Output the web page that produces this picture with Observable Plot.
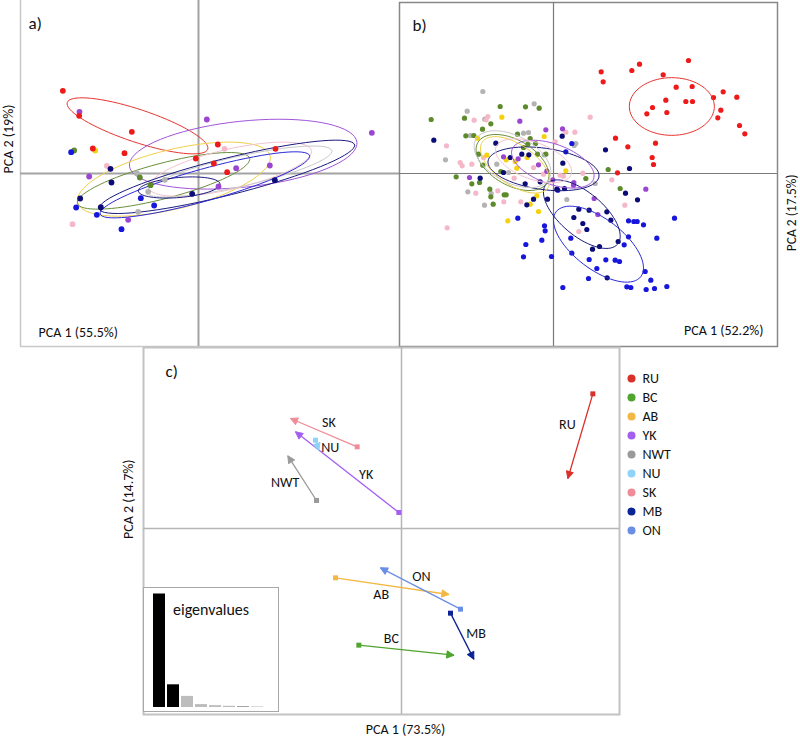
<!DOCTYPE html>
<html><head><meta charset="utf-8">
<script src="https://cdn.jsdelivr.net/npm/d3@7"></script>
<script src="https://cdn.jsdelivr.net/npm/@observablehq/plot@0.6"></script>
<style>
body{margin:0;background:#fff;}
#root{position:relative;width:800px;height:737px;overflow:hidden;font-family:Carlito,Calibri,Lato,sans-serif;}
#root svg{position:absolute;}
</style></head><body><div id="root"></div>
<script>
// ---------- categories ----------
const groups = ["RU","BC","AB","YK","NWT","NU","SK","MB","ON"];

// ---------- panel a : PCA scores ----------
const aRU = [[-4.07,2.48],[-3.58,1.73],[-3.17,0.75],[-2.00,1.25],[-2.22,0.61],[-0.08,0.45],[0.58,0.87],[0.46,0.30],[0.86,0.04],[2.31,0.74]];
const aYK = [[-3.57,1.85],[0.25,1.62],[5.20,1.22],[-3.28,-0.09],[1.13,0.16],[2.14,0.24],[0.60,-0.39],[-2.11,-1.39]];
const aON = [[-3.82,0.64],[-3.67,-1.02],[-3.05,-1.24],[-2.31,-1.67],[-1.73,-0.74],[-1.33,-0.96]];
const aMB = [[-2.64,0.14],[-2.61,-0.27],[-3.55,-0.75],[-2.93,-1.01],[-0.19,-0.61],[2.29,-0.20]];
const aBC = [[-3.73,0.69],[-1.76,-0.12],[-1.44,-0.35]];
const aAB = [[-3.10,0.69]];
const aSK = [[-2.75,0.23],[0.78,0.74],[-3.78,-1.52]];
const aNWT = [[-1.85,0.01],[-1.01,-0.19],[-1.51,-0.55],[-1.81,-1.15]];
const aEll = [
  {g:"RU", cx:-1.83, cy:1.43, a:2.22, b:0.49, angle:-18.4},
  {g:"YK", cx:1.34, cy:0.58, a:3.43, b:0.99, angle:6},
  {g:"AB", cx:-0.74, cy:-0.17, a:2.97, b:0.89, angle:13.6},
  {g:"BC", cx:-1.05, cy:-0.22, a:2.67, b:0.53, angle:14.7},
  {g:"SK", cx:0.95, cy:0.13, a:2.5, b:0.6, angle:13},
  {g:"NWT", cx:1.22, cy:0.06, a:2.85, b:0.45, angle:12.7},
  {g:"MB", cx:0.85, cy:-0.10, a:3.95, b:0.55, angle:14.1},
  {g:"ON", cx:0.19, cy:-0.34, a:3.26, b:0.48, angle:15.6},
  {g:"MB", cx:-0.58, cy:-0.42, a:1.23, b:0.3, angle:5}
];

// ---------- panel b : PCA scores ----------
const bRU = [[1.43,3.05],[1.49,2.75],[2.35,3.09],[2.58,3.28],[4.05,3.39],[3.29,2.96],[3.68,2.59],[4.16,2.61],[2.97,1.98],[2.80,1.79],[3.37,2.20],[3.40,1.83],[3.97,2.16],[4.17,2.16],[5.09,2.45],[5.50,2.29],[4.80,2.28],[5.02,1.90],[4.93,1.67],[5.58,1.44],[5.74,1.19],[1.86,1.06],[2.23,0.80],[3.06,0.91],[2.96,0.48],[3.00,0.27],[1.92,0.02]];
const bON = [[0.55,0.90],[0.37,0.65],[-1.07,-1.34],[-0.83,-2.13],[-0.90,-2.50],[-0.06,-2.49],[0.28,-3.42],[-0.27,-1.57],[-0.25,-1.72],[-0.35,-2.00],[0.52,-1.94],[0.55,-2.39],[1.07,-2.58],[1.30,-2.85],[1.05,-3.15],[1.57,-2.59],[1.85,-2.60],[1.98,-2.64],[2.25,-1.42],[2.25,-1.90],[2.12,-2.14],[2.41,-1.44],[2.51,-1.44],[2.70,-1.54],[3.10,-1.94],[3.63,-1.34],[2.75,-2.94],[2.92,-3.20],[2.20,-3.40],[2.32,-3.42],[2.78,-3.48],[3.03,-3.45],[3.40,-3.39],[0.13,-0.50]];
const bMB = [[-3.59,1.00],[-2.20,-0.14],[-1.73,0.91],[-0.95,0.58],[-0.74,0.56],[0.26,1.12],[0.28,0.31],[-0.80,-0.94],[-0.60,-0.77],[-0.18,-0.77],[-0.40,-0.25],[0.76,-1.07],[0.61,-1.32],[1.07,-1.10],[0.88,-1.50],[1.00,-1.68],[1.60,-1.15],[1.72,-1.40],[1.94,-2.04],[1.38,-2.19],[1.17,-2.27],[1.56,0.71],[2.28,0.15],[2.16,-0.59],[2.52,-0.79],[1.61,-3.13],[0.10,-0.47],[0.33,-0.45],[-0.85,-0.31],[-1.50,0.03],[-1.30,0.48]];
const bBC = [[-3.67,1.62],[-2.67,1.66],[-1.60,2.01],[-0.84,2.00],[-0.43,1.96],[-1.88,1.49],[-2.13,1.33],[-2.63,1.13],[-2.39,1.14],[-1.08,1.18],[-0.70,1.05],[-0.77,0.88],[-2.92,-0.10],[-2.45,-0.31],[-2.22,-0.27],[-1.91,-0.47],[-1.88,-0.70],[-1.81,-0.92],[-1.48,-0.64],[-1.42,-0.64],[-0.54,0.90],[-0.48,0.58],[-0.23,0.58],[0.97,-0.15],[1.64,0.12],[2.00,-0.45],[-1.58,0.06],[-2.12,0.25],[-2.25,0.58],[-0.90,0.78]];
const bNWT = [[-2.12,2.46],[-2.59,1.87],[-2.06,1.63],[-0.58,2.09],[-3.24,0.41],[-2.57,-0.55],[-2.07,-0.95],[-1.87,-0.60],[-1.70,0.28],[-2.49,1.14],[-0.90,1.21],[-0.75,1.23],[0.40,-0.78],[1.25,-0.30],[0.67,0.90],[0.62,0.84],[-0.28,0.56],[-1.35,0.03]];
const bSK = [[-3.21,0.83],[-2.80,0.33],[-2.74,0.23],[-2.38,1.60],[-1.97,1.71],[-2.02,1.61],[-2.45,0.28],[-2.33,-0.59],[-1.67,-0.52],[-1.49,-0.85],[-0.98,-0.85],[-1.18,-0.14],[-3.19,-1.63],[1.10,1.69],[0.64,1.24],[0.05,0.95],[0.88,0.01],[1.75,-0.19],[2.14,-0.95],[0.76,-1.74],[0.37,1.24],[0.30,-0.08],[0.20,-0.05],[-0.30,-0.02],[-2.10,0.48],[-0.60,0.18]];
const bAB = [[-1.55,1.69],[-2.28,1.06],[-0.28,1.11],[-1.37,-1.42],[-0.45,-1.14],[-0.50,-0.67],[0.37,0.08],[-1.15,0.36],[-0.79,0.48],[-1.10,0.16],[-1.42,0.41],[-2.00,0.55],[-0.70,-0.92]];
const bYK = [[-1.01,1.57],[-0.23,1.31],[0.27,1.34],[-2.52,-0.12],[-1.50,0.50],[-1.06,0.44],[-0.45,0.26],[-0.20,0.07],[0.61,-0.27],[0.60,-0.35],[1.22,-0.75],[1.33,-1.23],[2.77,-0.47],[-0.02,-0.19]];
const bEll = [
  {g:"RU", cx:3.55, cy:2.01, a:1.275, b:0.865, angle:0},
  {g:"ON", cx:1.35, cy:-2.12, a:1.6, b:0.75, angle:-37.4},
  {g:"MB", cx:0.85, cy:-1.22, a:1.4, b:0.65, angle:-40},
  {g:"MB", cx:-0.30, cy:0.14, a:1.68, b:0.62, angle:-8},
  {g:"YK", cx:-0.02, cy:0.28, a:1.3, b:0.6, angle:-20},
  {g:"BC", cx:-1.23, cy:0.33, a:1.2, b:0.68, angle:-30},
  {g:"NWT", cx:-1.23, cy:0.43, a:1.25, b:0.7, angle:-28},
  {g:"AB", cx:-1.15, cy:0.26, a:1.2, b:0.6, angle:-35},
  {g:"SK", cx:-0.6, cy:0.38, a:1.2, b:0.55, angle:-20}
];

// ---------- panel c : group centroids (from -> to) ----------
const cGroups = ["RU","BC","AB","YK","NWT","NU","SK","MB","ON"];
const cX1 = [5.74,-1.28,-1.98,-0.08,-2.55,-2.58,-1.33,1.47,1.77];
const cY1 = [4.04,-3.50,-1.48,0.48,0.84,2.65,2.45,-2.54,-2.42];
const cX2 = [4.99,1.57,1.42,-3.18,-3.41,-2.48,-3.33,2.17,-0.63];
const cY2 = [1.50,-3.80,-1.98,2.90,2.18,2.35,3.30,-3.92,-1.18];

// ---------- eigenvalues (% variance) ----------
const eigAxes = ["1","2","3","4","5","6","7","8"];
const eigValues = [73.5,14.7,7.2,1.9,1.2,0.8,0.5,0.2];

// ---------- styles ----------
const colAB = {RU:"#ee1a1a",BC:"#5d8a2b",AB:"#f6d20c",YK:"#9a46d0",NWT:"#b3b3b3",SK:"#f5b8c8",MB:"#0c0c78",ON:"#1616dc"};
const colEll = {RU:"#e8342f",BC:"#6a8f3a",AB:"#f0d048",YK:"#a055d8",NWT:"#c9c9c9",SK:"#f3c3cf",MB:"#1a1a80",ON:"#2a2ad8"};
const colC = {RU:"#d9302a",BC:"#4fa52d",AB:"#f3b844",YK:"#a35ff0",NWT:"#9a9a9a",NU:"#8fd3f6",SK:"#f08c9a",MB:"#0b2394",ON:"#6a8ee6"};
const labelOff = {RU:[-13,-12],BC:[-15,-12],AB:[-11,8],YK:[19,2],NWT:[-17,4],NU:[13,2],SK:[5,-10],MB:[14,-3],ON:[1,-12]};
const FONT = "Carlito,Calibri,Lato,sans-serif";

function toRows(obj){return Object.entries(obj).flatMap(([g,pts])=>pts.map(([x,y])=>({g,x,y})));}
function ellipseRows(list){
  const out=[];
  list.forEach((e,i)=>{
    const phi=e.angle*Math.PI/180;
    for(let k=0;k<72;k++){
      const t=k/72*2*Math.PI;
      out.push({id:i,g:e.g,
        x:e.cx+e.a*Math.cos(t)*Math.cos(phi)-e.b*Math.sin(t)*Math.sin(phi),
        y:e.cy+e.a*Math.cos(t)*Math.sin(phi)+e.b*Math.sin(t)*Math.cos(phi)});
    }
  });
  return out;
}
const root=document.getElementById("root");
function place(svg,left,top){svg.style.left=left+"px";svg.style.top=top+"px";root.appendChild(svg);}

// ---------- panel a ----------
const xA=[-5.34,6.03], yA=[-5.19,5.19];
const aPts=toRows({NWT:aNWT,SK:aSK,BC:aBC,AB:aAB,MB:aMB,ON:aON,YK:aYK,RU:aRU});
const panelA=Plot.plot({
  width:399,height:346,marginLeft:20,marginRight:0,marginTop:0,marginBottom:0,
  style:{fontFamily:FONT,background:"transparent",overflow:"visible"},
  x:{domain:xA,axis:null},y:{domain:yA,axis:null},
  marks:[
    Plot.ruleX([xA[0]],{stroke:"#c8c8c8",strokeWidth:1.5}),
    Plot.ruleY([yA[0]],{stroke:"#c8c8c8",strokeWidth:1.5}),
    Plot.ruleX([0],{stroke:"#a3a3a3",strokeWidth:2}),
    Plot.ruleY([0],{stroke:"#a3a3a3",strokeWidth:2}),
    Plot.line(ellipseRows(aEll),{x:"x",y:"y",z:"id",stroke:d=>colEll[d.g],strokeWidth:1,curve:"linear-closed"}),
    Plot.dot(aPts,{x:"x",y:"y",r:2.9,fill:d=>colAB[d.g]}),
    Plot.text(["a)"],{frameAnchor:"top-left",dx:8,dy:23,textAnchor:"start",lineAnchor:"middle",fontSize:17,fill:"#111"}),
    Plot.text(["PCA 1 (55.5%)"],{frameAnchor:"bottom-left",dx:18,dy:-14,textAnchor:"start",lineAnchor:"middle",fontSize:14,fill:"#111"}),
    Plot.text(["PCA 2 (19%)"],{frameAnchor:"left",dx:-12,rotate:-90,lineAnchor:"middle",fontSize:14,fill:"#111"})
  ]
});
place(panelA,0,0);

// ---------- panel b ----------
const xB=[-4.62,6.72], yB=[-5.19,5.13];
const bPts=toRows({NWT:bNWT,SK:bSK,BC:bBC,AB:bAB,YK:bYK,RU:bRU,ON:bON,MB:bMB});
const panelB=Plot.plot({
  width:401,height:346,marginLeft:0,marginRight:23,marginTop:2,marginBottom:0,
  style:{fontFamily:FONT,background:"transparent",overflow:"visible"},
  x:{domain:xB,axis:null},y:{domain:yB,axis:null},
  marks:[
    Plot.frame({stroke:"#888",strokeWidth:1.5}),
    Plot.ruleX([0],{stroke:"#7a7a7a",strokeWidth:1.2}),
    Plot.ruleY([0],{stroke:"#7a7a7a",strokeWidth:1.2}),
    Plot.dot(bPts,{x:"x",y:"y",r:2.6,fill:d=>colAB[d.g]}),
    Plot.line(ellipseRows(bEll),{x:"x",y:"y",z:"id",stroke:d=>colEll[d.g],strokeWidth:1,curve:"linear-closed"}),
    Plot.text(["b)"],{frameAnchor:"top-left",dx:13,dy:23,textAnchor:"start",lineAnchor:"middle",fontSize:17,fill:"#111"}),
    Plot.text(["PCA 1 (52.2%)"],{frameAnchor:"bottom-right",dx:-14,dy:-16,textAnchor:"end",lineAnchor:"middle",fontSize:14,fill:"#111"}),
    Plot.text(["PCA 2 (17.5%)"],{frameAnchor:"right",dx:14,rotate:-90,lineAnchor:"middle",fontSize:13.5,fill:"#111"})
  ]
});
place(panelB,399,0);

// ---------- panel c ----------
const xC=[-7.74,6.54], yC=[-5.58,5.43];
const cRows=cGroups.map((g,i)=>({g,x1:cX1[i],y1:cY1[i],x2:cX2[i],y2:cY2[i]}));
const headShape={draw(context,l){context.moveTo(0,-l);context.lineTo(-l*0.5,0);context.lineTo(l*0.5,0);context.closePath();}};
let headMark;
try{
  headMark=Plot.vector(cRows,{x:"x2",y:"y2",anchor:"end",length:7,shape:headShape,
    rotate:d=>Math.atan2(d.x2-d.x1,d.y2-d.y1)*180/Math.PI,
    fill:d=>colC[d.g],stroke:d=>colC[d.g],strokeWidth:1});
}catch(e){headMark=null;}
const cMarks=[
  Plot.frame({stroke:"#c2c2c2",strokeWidth:2}),
  Plot.ruleX([0],{stroke:"#b5b5b5",strokeWidth:1.5}),
  Plot.ruleY([0],{stroke:"#b5b5b5",strokeWidth:1.5}),
  headMark
    ? Plot.link(cRows,{x1:"x1",y1:"y1",x2:"x2",y2:"y2",stroke:d=>colC[d.g],strokeWidth:1.3})
    : Plot.arrow(cRows,{x1:"x1",y1:"y1",x2:"x2",y2:"y2",stroke:d=>colC[d.g],strokeWidth:1.3,headLength:8,headAngle:50}),
  headMark,
  Plot.dot(cRows,{x:"x1",y:"y1",symbol:"square",r:2.8,fill:d=>colC[d.g]}),
  ...cRows.map(r=>Plot.text([r],{x:d=>(d.x1+d.x2)/2,y:d=>(d.y1+d.y2)/2,text:"g",dx:labelOff[r.g][0],dy:labelOff[r.g][1],fontSize:14,fill:"#111"})),
  Plot.text(["c)"],{frameAnchor:"top-left",dx:22,dy:24,textAnchor:"start",lineAnchor:"middle",fontSize:17,fill:"#111"}),
  Plot.text(["PCA 1 (73.5%)"],{frameAnchor:"bottom",dx:24,dy:15,lineAnchor:"middle",fontSize:14,fill:"#111"}),
  Plot.text(["PCA 2 (14.7%)"],{frameAnchor:"left",dx:-15,dy:8,rotate:-90,lineAnchor:"middle",fontSize:14,fill:"#111"})
].filter(Boolean);
let panelC;
const cOpts={
  width:521,height:392,marginLeft:43,marginRight:2,marginTop:2,marginBottom:23,
  style:{fontFamily:FONT,background:"transparent",overflow:"visible"},
  x:{domain:xC,axis:null},y:{domain:yC,axis:null}
};
try{ panelC=Plot.plot({...cOpts,marks:cMarks}); }
catch(e){
  panelC=Plot.plot({...cOpts,marks:cMarks.filter(m=>m!==headMark).map(m=>m)
    .concat([Plot.arrow(cRows,{x1:"x1",y1:"y1",x2:"x2",y2:"y2",stroke:d=>colC[d.g],strokeWidth:1.3,headLength:8,headAngle:50})])});
}
place(panelC,100,345);

// ---------- eigenvalue inset ----------
const eigRows=eigAxes.map((k,i)=>({k,v:eigValues[i]}));
const inset=Plot.plot({
  width:134,height:123,marginLeft:5.5,marginRight:10.5,marginTop:5.5,marginBottom:4,
  style:{fontFamily:FONT,background:"white",border:"1.5px solid #a8a8a8"},
  x:{domain:eigAxes,axis:null,padding:0.12},y:{domain:[0,73.5],axis:null},
  marks:[
    Plot.barY(eigRows,{x:"k",y:"v",fill:(d,i)=>i<2?"#000":(i<6?"#bdbdbd":"#8a8a8a")}),
    Plot.text(["eigenvalues"],{frameAnchor:"top-left",dx:23,dy:16,textAnchor:"start",lineAnchor:"middle",fontSize:16,fill:"#111"})
  ]
});
place(inset,143,587);

// ---------- legend ----------
const legend=Plot.plot({
  width:180,height:210,margin:0,
  style:{fontFamily:FONT,background:"transparent"},
  x:{axis:null,domain:[0,1]},y:{type:"point",domain:groups,range:[16,191],axis:null},
  marks:[
    Plot.dot(groups,{y:d=>d,frameAnchor:"left",dx:11,r:4,fill:d=>colC[d]}),
    Plot.text(groups,{y:d=>d,text:d=>d,frameAnchor:"left",dx:22,textAnchor:"start",fontSize:14,fill:"#111"})
  ]
});
place(legend,620,350);
</script></body></html>
